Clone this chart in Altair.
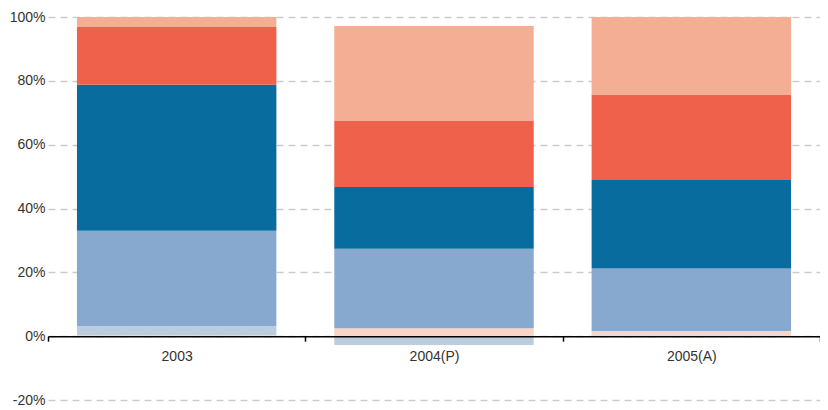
import altair as alt
import pandas as pd

years = ["2003", "2004(P)", "2005(A)"]
series = ["s1", "s2", "s3", "s4", "s5", "s6"]
colors = ["#f9d5c6", "#bccddf", "#87a9cf", "#086c9e", "#ef614a", "#f4ae93"]

s1 = [0.3, 2.5, 1.6]
s2 = [2.8, -2.8, 0.0]
s3 = [29.9, 24.9, 19.6]
s4 = [45.8, 19.3, 27.7]
s5 = [18.1, 20.9, 26.8]
s6 = [3.1, 29.6, 24.3]

rows = []
for name, vals in zip(series, [s1, s2, s3, s4, s5, s6]):
    for i, (yr, v) in enumerate(zip(years, vals)):
        rows.append({"year": yr, "series": name, "value": v, "order": series.index(name)})
df = pd.DataFrame(rows)

W, H = 772, 383

chart = alt.Chart(df).mark_bar(width=alt.RelativeBandSize(0.775)).encode(
    x=alt.X("year:N", sort=years,
            scale=alt.Scale(paddingInner=0, paddingOuter=0),
            axis=alt.Axis(title=None, labelAngle=0, tickBand="extent", offset=-H * 20 / 120,
                          domainColor="#000", domainWidth=1.5, tickColor="#000", tickSize=5,
                          tickWidth=1.5, labelPadding=8, labelFontSize=14, labelColor="#333",
                          labelFont="Liberation Sans", zindex=1, grid=False)),
    y=alt.Y("sum(value):Q", stack="zero",
            scale=alt.Scale(domain=[-20, 100], nice=False),
            axis=alt.Axis(title=None, values=[-20, 0, 20, 40, 60, 80, 100],
                          labelExpr="datum.value + '%'", domain=False, ticks=False,
                          labelPadding=3, labelFontSize=14, labelColor="#333",
                          labelFont="Liberation Sans",
                          grid=True, gridColor="#cccccc", gridDash=[7, 5], gridWidth=1.5, zindex=0)),
    color=alt.Color("series:N", sort=series,
                    scale=alt.Scale(domain=series, range=colors), legend=None),
    order=alt.Order("order:Q", sort="ascending"),
).properties(
    width=W, height=H,
    autosize=alt.AutoSizeParams(type="none"),
    padding={"left": 40, "top": 9, "right": 0, "bottom": 10},
).configure_view(stroke=None)

chart.save("out.html", embed_options={"renderer": "svg", "actions": False})
